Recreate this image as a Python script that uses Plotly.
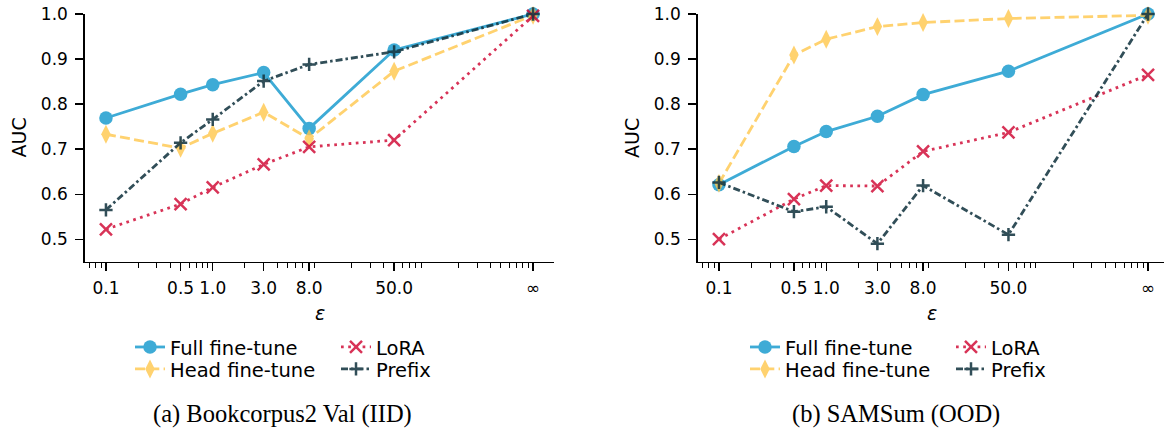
import plotly.graph_objects as go

# ---------------- data ----------------
eps_vals = [0.1, 0.5, 1.0, 3.0, 8.0, 50.0, 1000.0]   # "∞" is placed at 1000 on the log axis
eps_labels = ["0.1", "0.5", "1.0", "3.0", "8.0", "50.0", "∞"]
auc_ticks = [0.5, 0.6, 0.7, 0.8, 0.9, 1.0]
auc_labels = ["0.5", "0.6", "0.7", "0.8", "0.9", "1.0"]

methods = ["Full fine-tune", "Head fine-tune", "LoRA", "Prefix"]

# (a) Bookcorpus2 Val (IID)
book_full = [0.769, 0.822, 0.843, 0.870, 0.746, 0.920, 1.000]
book_head = [0.733, 0.702, 0.735, 0.782, 0.723, 0.873, 0.997]
book_lora = [0.522, 0.578, 0.615, 0.666, 0.705, 0.720, 0.996]
book_prefix = [0.565, 0.714, 0.766, 0.851, 0.888, 0.916, 1.000]

# (b) SAMSum (OOD)
sam_full = [0.621, 0.706, 0.739, 0.773, 0.821, 0.873, 1.000]
sam_head = [0.624, 0.909, 0.944, 0.972, 0.981, 0.990, 0.997]
sam_lora = [0.500, 0.589, 0.619, 0.618, 0.695, 0.737, 0.865]
sam_prefix = [0.626, 0.561, 0.572, 0.490, 0.619, 0.510, 1.000]

captions = ["(a) Bookcorpus2 Val (IID)", "(b) SAMSum (OOD)"]

# ---------------- styles ----------------
W, H = 1164, 430
TICK_FONT = dict(family="DejaVu Sans", size=17, color="black")
styles = [
    dict(color="#0E97CC", opacity=0.8, dash="solid", symbol="circle", size=13.5, lw=0),
    dict(color="#FFC74C", opacity=0.8, dash="10px,4.3px", symbol="diamond-tall", size=13.5, lw=0),
    dict(color="#CF012E", opacity=0.8, dash="2.7px,4.5px", symbol="x-thin", size=12, lw=2.5),
    dict(color="#153641", opacity=0.88, dash="7px,3px,2.5px,3px", symbol="cross-thin", size=9.5, lw=2.5),
]

panels = [
    dict(xa="x", ya="y", data=[book_full, book_head, book_lora, book_prefix],
         legends=["legend", "legend2", "legend3", "legend4"]),
    dict(xa="x2", ya="y2", data=[sam_full, sam_head, sam_lora, sam_prefix],
         legends=["legend5", "legend6", "legend7", "legend8"]),
]

fig = go.Figure()
for p in panels:
    for name, vals, st, lg in zip(methods, p["data"], styles, p["legends"]):
        marker = dict(symbol=st["symbol"], size=st["size"], color=st["color"])
        if st["lw"]:
            marker["line"] = dict(color=st["color"], width=st["lw"])
        else:
            marker["line"] = dict(width=0)
        fig.add_trace(go.Scatter(
            x=eps_vals, y=vals, name=name, mode="lines+markers",
            xaxis=p["xa"], yaxis=p["ya"], legend=lg, showlegend=True,
            line=dict(color=st["color"], width=2.8, dash=st["dash"]),
            marker=marker, opacity=st["opacity"], cliponaxis=False,
        ))

# minor ticks (matplotlib LogLocator style: 2..9 per decade)
minor_vals = [m * 10.0 ** k for k in range(-2, 4) for m in range(2, 10)]


def xaxis_cfg(domain, rng, anchor):
    return dict(
        type="log", domain=domain, range=rng, anchor=anchor,
        showgrid=False, zeroline=False,
        showline=True, linecolor="black", linewidth=1.3,
        tickmode="array", tickvals=eps_vals, ticktext=eps_labels,
        ticks="outside", ticklen=8, tickwidth=1.3, tickcolor="black",
        tickfont=TICK_FONT, ticklabelstandoff=3,
        minor=dict(tickmode="array", tickvals=minor_vals, ticks="outside",
                   ticklen=5, tickwidth=1, tickcolor="black", showgrid=False),
    )


def yaxis_cfg(anchor):
    return dict(
        domain=[(H - 261.7) / H, (H - 14) / H], range=[0.45, 1.0], anchor=anchor,
        showgrid=False, zeroline=False, showline=True, linecolor="black", linewidth=1.3,
        tickmode="array", tickvals=auc_ticks, ticktext=auc_labels,
        ticks="outside", ticklen=8, tickwidth=1.3, tickcolor="black",
        tickfont=TICK_FONT, ticklabelstandoff=4,
    )


layout = dict(
    width=W, height=H, margin=dict(l=0, r=0, t=0, b=0, autoexpand=False),
    paper_bgcolor="white", plot_bgcolor="white", showlegend=True,
    font=dict(family="DejaVu Sans", color="black"),
    xaxis=xaxis_cfg([84.6 / W, 554.4 / W], [-1.2, 3.2], "y"),
    yaxis=yaxis_cfg("x"),
    xaxis2=xaxis_cfg([697.5 / W, 1.0], [-1.2, 3.149], "y2"),
    yaxis2=yaxis_cfg("x2"),
)

# legend placement: one legend box per entry, arranged as 2x2 grid below each panel
legend_left = [130, 130, 336, 336, 745, 745, 951, 951]
legend_top = [327.8, 349.8, 327.8, 349.8, 327.8, 349.8, 327.8, 349.8]
for i, (lx, ly) in enumerate(zip(legend_left, legend_top)):
    key = "legend" if i == 0 else f"legend{i + 1}"
    layout[key] = dict(
        x=lx / W, y=(H - ly) / H, xanchor="left", yanchor="top",
        orientation="v", bgcolor="rgba(0,0,0,0)", borderwidth=0, visible=True,
        font=dict(family="DejaVu Sans", size=19.5, color="black"),
        itemwidth=30, tracegroupgap=0,
    )

annotations = []
# y-axis titles
for ax_x in [18.5, 632]:
    annotations.append(dict(text="AUC", x=ax_x / W, y=(H - 138) / H, xref="paper", yref="paper",
                            xanchor="center", yanchor="middle", textangle=-90, showarrow=False,
                            font=dict(family="DejaVu Sans", size=19, color="black")))
# x-axis titles
for ax_x in [319.5, 932]:
    annotations.append(dict(text="<i>ε</i>", x=ax_x / W, y=(H - 313) / H, xref="paper", yref="paper",
                            xanchor="center", yanchor="middle", showarrow=False,
                            font=dict(family="DejaVu Sans", size=19, color="black")))
# captions
for cap, cx in zip(captions, [282.5, 896]):
    annotations.append(dict(text=cap, x=cx / W, y=(H - 414) / H, xref="paper", yref="paper",
                            xanchor="center", yanchor="middle", showarrow=False,
                            font=dict(family="Liberation Serif", size=24.5, color="black")))
layout["annotations"] = annotations

fig.update_layout(**layout)
fig.write_html(
    "out.html",
    config={"displayModeBar": False, "staticPlot": True},
    post_script="document.body.style.margin='0';document.body.style.overflow='hidden';",
)
